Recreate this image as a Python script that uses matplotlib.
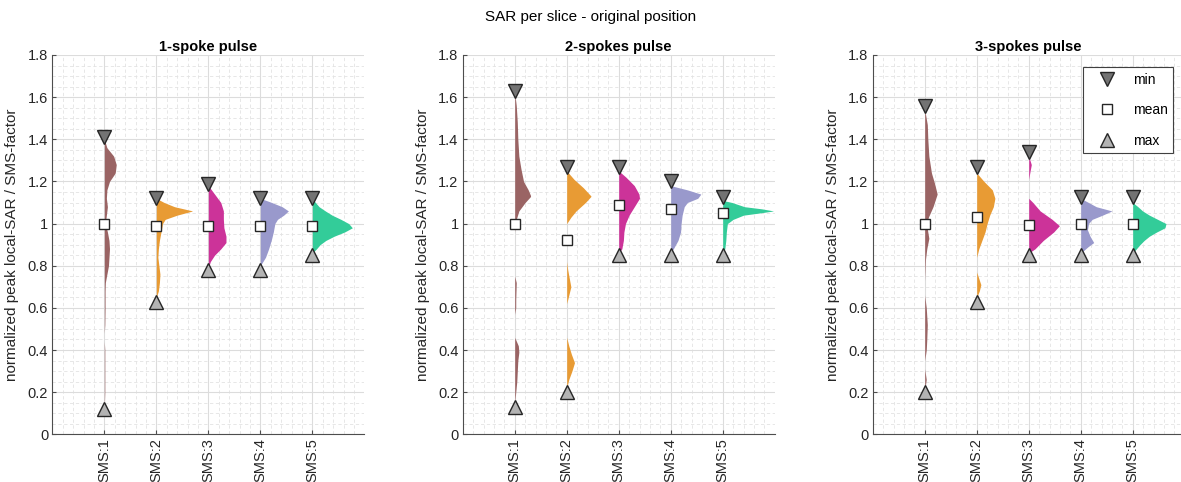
import numpy as np
import matplotlib.pyplot as plt
from matplotlib.ticker import MultipleLocator, FuncFormatter

plt.rcParams['font.family'] = ['Liberation Sans', 'DejaVu Sans']

# DATA
categories = ["SMS:1", "SMS:2", "SMS:3", "SMS:4", "SMS:5"]
panel_titles = ["1-spoke pulse", "2-spokes pulse", "3-spokes pulse"]
colors = ["#9a6464", "#e89b34", "#cc3399", "#9999cc", "#33cc99"]

# marker values per panel: "min" (drawn at top), mean, "max" (drawn at bottom)
top_vals = [[1.41, 1.12, 1.19, 1.12, 1.12],
            [1.63, 1.27, 1.27, 1.20, 1.125],
            [1.56, 1.27, 1.34, 1.125, 1.125]]
mean_vals = [[1.00, 0.99, 0.99, 0.99, 0.99],
             [1.00, 0.92, 1.09, 1.07, 1.05],
             [1.00, 1.03, 0.995, 1.00, 1.00]]
bottom_vals = [[0.12, 0.63, 0.78, 0.78, 0.85],
               [0.13, 0.20, 0.85, 0.85, 0.85],
               [0.20, 0.63, 0.85, 0.85, 0.85]]

# half-violin profiles: value grid and half-width (x units)
p1_y1 = [1.40, 1.36, 1.32, 1.28, 1.24, 1.20, 1.16, 1.12, 1.08, 1.04, 1.00, 0.96, 0.92, 0.88, 0.84,
         0.80, 0.76, 0.72, 0.68, 0.60, 0.52, 0.48, 0.44, 0.40, 0.30, 0.20, 0.12]
p1_w1 = [0.0, 0.05, 0.18, 0.23, 0.21, 0.10, 0.05, 0.04, 0.06, 0.04, 0.02, 0.06, 0.09, 0.10, 0.09,
         0.08, 0.05, 0.02, 0.015, 0.015, 0.01, 0.0, 0.0, 0.01, 0.01, 0.01, 0.0]
p1_y2 = [1.12, 1.10, 1.08, 1.06, 1.04, 1.02, 1.00, 0.96, 0.92, 0.88, 0.84, 0.80, 0.76, 0.72, 0.68, 0.65]
p1_w2 = [0.0, 0.15, 0.35, 0.70, 0.40, 0.17, 0.12, 0.09, 0.06, 0.04, 0.03, 0.05, 0.07, 0.06, 0.04, 0.0]
p1_y3 = [1.18, 1.14, 1.10, 1.06, 1.02, 0.98, 0.94, 0.91, 0.88, 0.85, 0.82, 0.79]
p1_w3 = [0.0, 0.12, 0.24, 0.29, 0.29, 0.30, 0.34, 0.34, 0.24, 0.12, 0.04, 0.0]
p1_y4 = [1.12, 1.10, 1.08, 1.06, 1.04, 1.02, 1.00, 0.96, 0.92, 0.88, 0.84, 0.80]
p1_w4 = [0.0, 0.22, 0.42, 0.54, 0.45, 0.33, 0.28, 0.25, 0.21, 0.16, 0.10, 0.0]
p1_y5 = [1.12, 1.10, 1.08, 1.06, 1.04, 1.02, 1.00, 0.98, 0.96, 0.94, 0.92, 0.90, 0.88, 0.86]
p1_w5 = [0.0, 0.06, 0.13, 0.25, 0.38, 0.55, 0.70, 0.77, 0.62, 0.42, 0.26, 0.15, 0.08, 0.0]

p2_y1 = [1.62, 1.56, 1.48, 1.40, 1.32, 1.26, 1.20, 1.16, 1.13, 1.10, 1.06, 1.02, 0.99, 0.96, 0.75,
         0.72, 0.68, 0.64, 0.60, 0.57, 0.46, 0.42, 0.39, 0.35, 0.30, 0.25, 0.20, 0.15]
p2_w1 = [0.0, 0.03, 0.05, 0.06, 0.08, 0.12, 0.17, 0.26, 0.31, 0.20, 0.08, 0.03, 0.01, 0.0, 0.0,
         0.03, 0.025, 0.02, 0.02, 0.0, 0.0, 0.07, 0.08, 0.06, 0.05, 0.04, 0.02, 0.0]
p2_y2 = [1.25, 1.21, 1.17, 1.13, 1.10, 1.06, 1.03, 1.00, 0.82, 0.78, 0.74, 0.70, 0.66, 0.62,
         0.46, 0.42, 0.38, 0.34, 0.30, 0.26, 0.22]
p2_w2 = [0.0, 0.14, 0.32, 0.47, 0.36, 0.18, 0.08, 0.0, 0.0, 0.02, 0.05, 0.08, 0.04, 0.0,
         0.0, 0.04, 0.09, 0.15, 0.10, 0.04, 0.0]
p2_y3 = [1.25, 1.22, 1.18, 1.14, 1.12, 1.08, 1.04, 1.00, 0.96, 0.92, 0.88, 0.86]
p2_w3 = [0.0, 0.14, 0.30, 0.39, 0.40, 0.30, 0.20, 0.13, 0.10, 0.09, 0.06, 0.0]
p2_y4 = [1.18, 1.16, 1.14, 1.12, 1.10, 1.08, 1.04, 1.00, 0.96, 0.92, 0.88, 0.86]
p2_w4 = [0.0, 0.32, 0.58, 0.52, 0.32, 0.26, 0.22, 0.20, 0.19, 0.14, 0.05, 0.0]
p2_y5 = [1.11, 1.10, 1.08, 1.07, 1.06, 1.05, 1.04, 1.02, 1.00, 0.96, 0.92, 0.88, 0.86]
p2_w5 = [0.0, 0.18, 0.42, 0.75, 0.98, 0.70, 0.40, 0.20, 0.09, 0.07, 0.06, 0.04, 0.0]

p3_y1 = [1.54, 1.47, 1.40, 1.32, 1.24, 1.19, 1.14, 1.08, 1.03, 0.99, 0.93, 0.88, 0.83, 0.73,
         0.66, 0.60, 0.52, 0.45, 0.40, 0.35, 0.31, 0.26, 0.21]
p3_w1 = [0.0, 0.05, 0.06, 0.08, 0.13, 0.19, 0.24, 0.16, 0.07, 0.04, 0.08, 0.04, 0.015, 0.0,
         0.0, 0.03, 0.05, 0.04, 0.03, 0.0, 0.0, 0.03, 0.0]
p3_y2 = [1.24, 1.20, 1.16, 1.12, 1.08, 1.04, 1.00, 0.96, 0.92, 0.88, 0.84, 0.77, 0.74, 0.71, 0.68, 0.65]
p3_w2 = [0.0, 0.14, 0.30, 0.35, 0.32, 0.25, 0.20, 0.16, 0.10, 0.04, 0.0, 0.0, 0.04, 0.08, 0.05, 0.0]
p3_y3 = [1.32, 1.28, 1.24, 1.21, 1.12, 1.10, 1.06, 1.02, 0.99, 0.96, 0.92, 0.88, 0.86]
p3_w3 = [0.0, 0.05, 0.02, 0.0, 0.0, 0.08, 0.22, 0.45, 0.59, 0.48, 0.28, 0.12, 0.0]
p3_y4 = [1.12, 1.08, 1.06, 1.04, 1.02, 1.00, 0.97, 0.94, 0.91, 0.89, 0.86]
p3_w4 = [0.0, 0.30, 0.60, 0.42, 0.22, 0.15, 0.13, 0.18, 0.25, 0.14, 0.0]
p3_y5 = [1.10, 1.08, 1.06, 1.04, 1.02, 1.00, 0.98, 0.96, 0.94, 0.92, 0.90, 0.88, 0.86]
p3_w5 = [0.0, 0.10, 0.19, 0.32, 0.48, 0.64, 0.62, 0.46, 0.32, 0.22, 0.14, 0.07, 0.0]

profiles = [
    [(p1_y1, p1_w1), (p1_y2, p1_w2), (p1_y3, p1_w3), (p1_y4, p1_w4), (p1_y5, p1_w5)],
    [(p2_y1, p2_w1), (p2_y2, p2_w2), (p2_y3, p2_w3), (p2_y4, p2_w4), (p2_y5, p2_w5)],
    [(p3_y1, p3_w1), (p3_y2, p3_w2), (p3_y3, p3_w3), (p3_y4, p3_w4), (p3_y5, p3_w5)],
]

W, H = 1181, 482
fig = plt.figure(figsize=(W / 100, H / 100), dpi=100)
lefts = [52.3, 462.7, 872.7]
ax_w, ax_bot, ax_top = 312.0, 434.3, 55.0

txt_col = "#262626"
xpos = np.arange(1, len(categories) + 1)

for p in range(3):
    ax = fig.add_axes([lefts[p] / W, (H - ax_bot) / H, ax_w / W, (ax_bot - ax_top) / H])

    for i, (yy, ww) in enumerate(profiles[p]):
        yy = np.array(yy)
        ww = np.array(ww)
        order = np.argsort(yy)
        yf = np.linspace(yy.min(), yy.max(), 300)
        wf = np.interp(yf, yy[order], ww[order])
        ax.fill_betweenx(yf, xpos[i], xpos[i] + wf, color=colors[i], lw=0, zorder=3)

    ax.plot(xpos, top_vals[p], ls="none", marker="v", ms=10, mfc="#737373", mec="#262626",
            mew=1.0, zorder=5, label="min")
    ax.plot(xpos, mean_vals[p], ls="none", marker="s", ms=7.5, mfc="white", mec="#262626",
            mew=1.0, zorder=5, label="mean")
    ax.plot(xpos, bottom_vals[p], ls="none", marker="^", ms=10, mfc="#b3b3b3", mec="#262626",
            mew=1.0, zorder=5, label="max")

    ax.set_xlim(0, 6)
    ax.set_ylim(0, 1.8)
    ax.set_xticks(xpos)
    ax.set_xticklabels(categories, rotation=90, fontsize=10, color=txt_col)
    ax.yaxis.set_major_locator(MultipleLocator(0.2))
    ax.yaxis.set_minor_locator(MultipleLocator(0.05))
    ax.xaxis.set_minor_locator(MultipleLocator(0.2))
    ax.yaxis.set_major_formatter(FuncFormatter(lambda v, pos: ("%.1f" % v).rstrip("0").rstrip(".")))
    ax.tick_params(axis="both", which="major", direction="in", length=3, labelsize=10.5,
                   colors="#4d4d4d", labelcolor=txt_col, pad=3)
    ax.tick_params(axis="both", which="minor", length=0)
    ax.grid(which="major", color="#dcdcdc", lw=0.8, zorder=0)
    ax.grid(which="minor", color="#e3e3e3", lw=0.6, ls=(0, (4, 3)), zorder=0)
    ax.set_axisbelow(True)
    for s in ["top", "right"]:
        ax.spines[s].set_visible(False)
    for s in ["left", "bottom"]:
        ax.spines[s].set_color("#4d4d4d")
        ax.spines[s].set_linewidth(0.8)

    ax.set_ylabel("normalized peak local-SAR / SMS-factor", fontsize=11, color=txt_col, labelpad=6)
    ax.set_title(panel_titles[p], fontsize=10.5, fontweight="bold", color="black", pad=3)

    if p == 2:
        leg = ax.legend(loc="upper left", bbox_to_anchor=((1083 - lefts[p]) / ax_w, (ax_bot - 67) / (ax_bot - ax_top)),
                        fontsize=10, labelspacing=1.2, handlelength=2.7, handletextpad=0.5,
                        borderpad=0.4, fancybox=False, framealpha=1, edgecolor="#404040",
                        borderaxespad=0)
        leg.get_frame().set_linewidth(0.8)

fig.suptitle("SAR per slice - original position", fontsize=11, y=1 - 17 / H, va="center",
             color="black")

fig.savefig("out.png", dpi=100)
